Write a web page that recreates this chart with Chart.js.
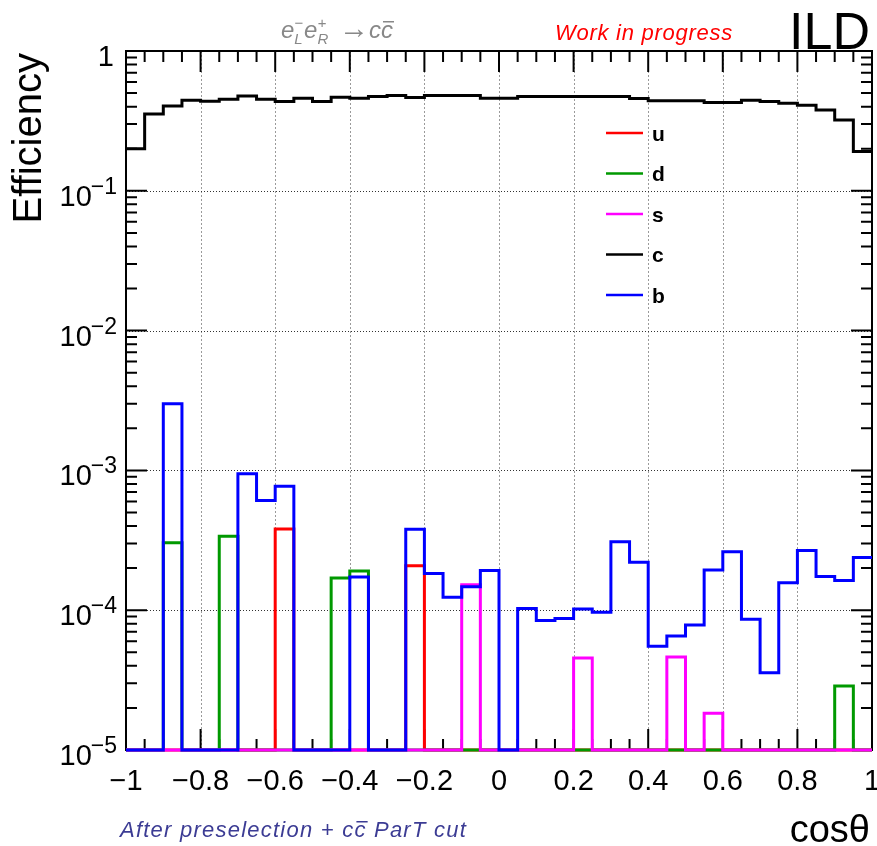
<!DOCTYPE html>
<html>
<head>
<meta charset="utf-8">
<script src="https://cdn.jsdelivr.net/npm/chart.js@4.4.1/dist/chart.umd.min.js"></script>
<style>
  html, body { margin: 0; padding: 0; background: #fff; }
</style>
</head>
<body>
<canvas id="effChart" width="877" height="846"></canvas>
<script>
// binning of the cos(theta) histograms: 40 bins from -1 to 1
const binEdgeMin = -1;
const binWidth = 0.05;

const seriesNames = ["u", "d", "s", "c", "b"];
const seriesColors = ["#ff0000", "#009900", "#ff00ff", "#000000", "#0000ff"];

// efficiency per bin (0 = empty bin)
const effU = [0, 0, 0, 0, 0, 0, 0, 0, 3.81e-4, 0,
              0, 0, 0, 0, 0, 2.08e-4, 0, 0, 0, 0,
              0, 0, 0, 0, 0, 0, 0, 0, 0, 0,
              0, 0, 0, 0, 0, 0, 0, 0, 0, 0];
const effD = [0, 0, 3.04e-4, 0, 0, 3.38e-4, 0, 0, 0, 0,
              0, 1.70e-4, 1.91e-4, 0, 0, 0, 0, 0, 0, 0,
              0, 0, 0, 0, 0, 0, 0, 0, 0, 0,
              0, 0, 0, 0, 0, 0, 0, 0, 2.87e-5, 0];
const effS = [0, 0, 0, 0, 0, 0, 0, 0, 0, 0,
              0, 0, 0, 0, 0, 0, 0, 0, 1.52e-4, 0,
              0, 0, 0, 0, 4.56e-5, 0, 0, 0, 0, 4.63e-5,
              0, 1.83e-5, 0, 0, 0, 0, 0, 0, 0, 0];
const effC = [0.200, 0.355, 0.405, 0.444, 0.437, 0.452, 0.477, 0.452, 0.435, 0.459,
              0.435, 0.467, 0.459, 0.472, 0.480, 0.464, 0.480, 0.480, 0.480, 0.459,
              0.459, 0.472, 0.472, 0.472, 0.472, 0.472, 0.472, 0.457, 0.441, 0.441,
              0.441, 0.428, 0.428, 0.444, 0.435, 0.423, 0.410, 0.379, 0.321, 0.191];
const effB = [0, 0, 3.0e-3, 0, 0, 0, 9.47e-4, 6.1e-4, 7.7e-4, 0,
              0, 0, 1.73e-4, 0, 0, 3.8e-4, 1.83e-4, 1.24e-4, 1.47e-4, 1.92e-4,
              0, 1.03e-4, 8.44e-5, 8.72e-5, 1.02e-4, 9.68e-5, 3.09e-4, 2.2e-4, 5.53e-5, 6.55e-5,
              7.85e-5, 1.94e-4, 2.62e-4, 8.62e-5, 3.57e-5, 1.57e-4, 2.67e-4, 1.74e-4, 1.63e-4, 2.38e-4];

// axis ticks
const xTickValues = [-1, -0.8, -0.6, -0.4, -0.2, 0, 0.2, 0.4, 0.6, 0.8, 1];
const xTickLabels = ["\u22121", "\u22120.8", "\u22120.6", "\u22120.4", "\u22120.2", "0", "0.2", "0.4", "0.6", "0.8", "1"];
const yDecades = [1, 1e-1, 1e-2, 1e-3, 1e-4, 1e-5];
const yTickExponents = ["", "\u22121", "\u22122", "\u22123", "\u22124", "\u22125"];

const yMin = 1e-5;
const yMax = 1;

function histPoints(values) {
  const pts = [];
  values.forEach((v, i) => {
    const lo = binEdgeMin + i * binWidth;
    const hi = binEdgeMin + (i + 1) * binWidth;
    const y = v > 0 ? v : yMin;
    pts.push({ x: lo, y: y }, { x: hi, y: y });
  });
  return pts;
}

const FONT = '"Liberation Sans", Arial, Helvetica, sans-serif';

// draws a run of text pieces (sub/superscripts, overlines), optionally stretched to a width
function drawParts(c, x, y, parts, targetWidth) {
  let spacing = 0;
  if (targetWidth) {
    let natural = 0, chars = 0;
    parts.forEach(p => {
      c.font = p.font;
      natural += c.measureText(p.text).width;
      chars += p.text.length;
    });
    spacing = (targetWidth - natural) / chars;
  }
  c.letterSpacing = spacing + "px";
  parts.forEach(p => {
    if (p.at !== undefined) x = p.at;
    if (p.sup !== undefined) {
      c.font = p.smallFont;
      c.fillText(p.sup, x, y - p.supShift);
      c.fillText(p.sub, x, y + p.subShift);
      x += Math.max(c.measureText(p.sup).width, c.measureText(p.sub).width) + 1;
      return;
    }
    c.font = p.font;
    c.fillText(p.text, x, y);
    const w = c.measureText(p.text).width;
    if (p.bar) {
      c.fillRect(x + 2, y - p.barHeight, w - 1, 1.5);
    }
    x += w;
  });
  c.letterSpacing = "0px";
}

const rootStyle = {
  id: "rootStyle",
  beforeDatasetsDraw(chart) {
    const c = chart.ctx;
    const a = chart.chartArea;
    const xs = chart.scales.x;
    const ys = chart.scales.y;
    c.save();
    c.lineWidth = 1;
    // vertical grid
    c.strokeStyle = "#9a9a9a";
    c.setLineDash([2, 2]);
    xTickValues.slice(1, -1).forEach(v => {
      const px = Math.round(xs.getPixelForValue(v)) + 0.5;
      c.beginPath(); c.moveTo(px, a.top); c.lineTo(px, a.bottom); c.stroke();
    });
    // horizontal grid
    c.strokeStyle = "#333";
    c.setLineDash([1, 2]);
    yDecades.slice(1, -1).forEach(v => {
      const py = Math.round(ys.getPixelForValue(v)) + 0.5;
      c.beginPath(); c.moveTo(a.left, py); c.lineTo(a.right, py); c.stroke();
    });

    // frame and inside ticks, under the histograms
    c.setLineDash([]);
    c.strokeStyle = "#000";
    c.lineWidth = 2;
    c.strokeRect(a.left, a.top, a.right - a.left, a.bottom - a.top);
    c.beginPath();
    for (let k = 0; k <= 40; k++) {
      const v = binEdgeMin + k * binWidth;
      const px = xs.getPixelForValue(v);
      const len = k % 4 === 0 ? 21 : 11;
      c.moveTo(px, a.bottom); c.lineTo(px, a.bottom - len);
      c.moveTo(px, a.top); c.lineTo(px, a.top + len);
    }
    yDecades.forEach(v => {
      const py = ys.getPixelForValue(v);
      c.moveTo(a.left, py); c.lineTo(a.left + 21, py);
      c.moveTo(a.right, py); c.lineTo(a.right - 21, py);
    });
    yDecades.slice(1).forEach(d => {
      for (let m = 2; m <= 9; m++) {
        const py = ys.getPixelForValue(d * m);
        c.moveTo(a.left, py); c.lineTo(a.left + 11, py);
        c.moveTo(a.right, py); c.lineTo(a.right - 11, py);
      }
    });
    c.stroke();
    c.restore();
  },
  afterDatasetsDraw(chart) {
    const c = chart.ctx;
    const a = chart.chartArea;
    const xs = chart.scales.x;
    const ys = chart.scales.y;
    c.save();

    // x tick labels
    c.fillStyle = "#000";
    c.font = "29px " + FONT;
    c.textAlign = "center";
    c.textBaseline = "alphabetic";
    xTickValues.forEach((v, i) => {
      c.fillText(xTickLabels[i], xs.getPixelForValue(v), a.bottom + 40);
    });

    // y tick labels
    yDecades.forEach((v, i) => {
      const py = ys.getPixelForValue(v);
      const base = py + 15;
      c.textAlign = "right";
      if (yTickExponents[i] === "") {
        c.font = "29px " + FONT;
        c.fillText("1", 114, base);
        return;
      }
      c.font = "23px " + FONT;
      const ew = c.measureText(yTickExponents[i]).width;
      c.fillText(yTickExponents[i], 117, base - 12);
      c.font = "29px " + FONT;
      c.fillText("10", 118 - ew, base);
    });

    // axis titles
    c.textAlign = "right";
    c.font = "38px " + FONT;
    c.fillText("cos\u03b8", 870, 842);
    c.save();
    c.translate(41, 53);
    c.rotate(-Math.PI / 2);
    c.font = "40px " + FONT;
    c.fillText("Efficiency", 0, 0);
    c.restore();

    // legend
    c.textAlign = "left";
    c.textBaseline = "middle";
    c.font = "bold 21px " + FONT;
    chart.data.datasets.forEach((ds, i) => {
      const ly = 133 + i * 40.5;
      c.strokeStyle = ds.borderColor;
      c.lineWidth = 2.5;
      c.beginPath(); c.moveTo(606, ly); c.lineTo(643, ly); c.stroke();
      c.fillStyle = "#000";
      c.fillText(ds.label, 652, ly + 2);
    });

    // annotations
    c.textBaseline = "alphabetic";
    c.textAlign = "left";
    c.fillStyle = "#ff0000";
    drawParts(c, 555, 40, [{ text: "Work in progress", font: "italic 22px " + FONT }], 178);

    c.fillStyle = "#000";
    c.font = "52px " + FONT;
    c.textAlign = "right";
    c.fillText("ILD", 870, 49);

    c.textAlign = "left";
    c.fillStyle = "#888888";
    const it = "italic 24px " + FONT;
    const sm = "italic 15px " + FONT;
    drawParts(c, 281, 38, [
      { text: "e", font: it },
      { sup: "\u2212", sub: "L", smallFont: sm, supShift: 10, subShift: 6 },
      { text: "e", font: it },
      { sup: "+", sub: "R", smallFont: sm, supShift: 10, subShift: 6 },
      { text: "\u2192", font: "30px " + FONT, at: 339 },
      { text: "c", font: it, at: 369 },
      { text: "c", font: it, bar: true, barHeight: 17 }
    ]);

    c.fillStyle = "#3c3c94";
    const it2 = "italic 22px " + FONT;
    drawParts(c, 120, 837, [
      { text: "After preselection + c", font: it2 },
      { text: "c", font: it2, bar: true, barHeight: 16 },
      { text: " ParT cut", font: it2 }
    ], 347);
    c.restore();
  }
};

const seriesValues = [effU, effD, effS, effC, effB];
const drawOrder = [5, 4, 3, 2, 1];

const datasets = seriesNames.map((name, i) => ({
  label: name,
  data: histPoints(seriesValues[i]),
  borderColor: seriesColors[i],
  borderWidth: 3,
  pointRadius: 0,
  fill: false,
  tension: 0,
  clip: false,
  borderJoinStyle: "miter",
  order: drawOrder[i]
}));

const chart = new Chart(document.getElementById("effChart"), {
  type: "line",
  data: { datasets: datasets },
  options: {
    responsive: false,
    animation: false,
    layout: { padding: { left: 126, top: 51, right: 5, bottom: 96 } },
    scales: {
      x: { type: "linear", min: -1, max: 1, display: false },
      y: { type: "logarithmic", min: yMin, max: yMax, display: false }
    },
    plugins: {
      legend: { display: false },
      tooltip: { enabled: false }
    }
  },
  plugins: [rootStyle]
});
</script>
</body>
</html>
